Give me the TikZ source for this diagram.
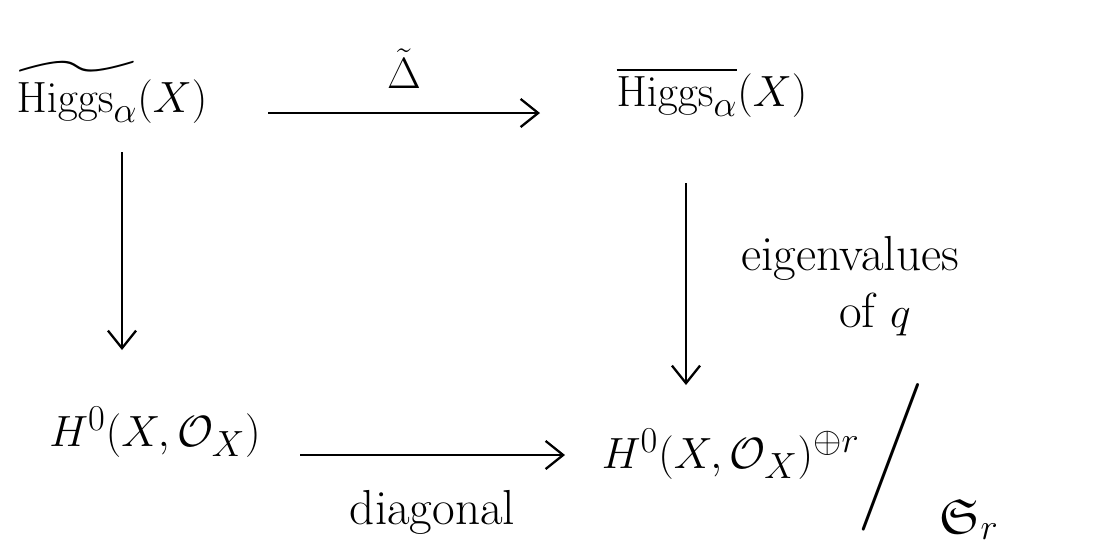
\documentclass[tikz,border=0pt]{standalone}
\usepackage{amsmath,amssymb}
\usetikzlibrary{arrows.meta,positioning}

\tikzset{
    obj/.style={font=\fontsize{28}{32}\selectfont, inner sep=2pt},
    lbl/.style={font=\fontsize{28}{32}\selectfont},
    arr/.style={-{Straight Barb[length=10pt,width=16pt]}, line width=1.3pt}
}

\begin{document}
\begin{tikzpicture}[x=0.02cm, y=-0.02cm]
    \useasboundingbox (0,0) rectangle (1096,559);

    % objets du carre
    \node[obj] (tl) at (112,92) {$\widetilde{\mathrm{Higgs}_\alpha}(X)$};
    \node[obj] (tr) at (712,92) {$\overline{\mathrm{Higgs}_\alpha}(X)$};
    \node[obj] (bl) at (155,432) {$H^0(X,\mathcal{O}_X)$};
    \node[obj, anchor=west] (br) at (598,462)
        {$H^0(X,\mathcal{O}_X)^{\oplus r}\Bigg/_{\kern10pt\textstyle\mathfrak{S}_r}$};

    % fleches
    \draw[arr] ([shift={(156,21)}]tl.center) -- ([shift={(-172,21)}]tr.center)
        node[midway, above=10pt, lbl] (delta) {$\tilde{\Delta}$};
    \draw[arr] ([shift={(10,60)}]tl.center) -- ([shift={(-33,-82)}]bl.center);
    \draw[arr] ([shift={(-26,91)}]tr.center) -- ([shift={(88,-77)}]br.west);
    \draw[arr] ([shift={(145,23)}]bl.center) -- ([shift={(-33,-7)}]br.west)
        node[midway, below=16pt, lbl] (diag) {diagonal};

    % etiquette de droite
    \node[lbl] (eig) at (850,258) {eigenvalues};
    \node[lbl, below=0pt of eig, xshift=0.5cm] (ofq) {of $q$};
\end{tikzpicture}
\end{document}
